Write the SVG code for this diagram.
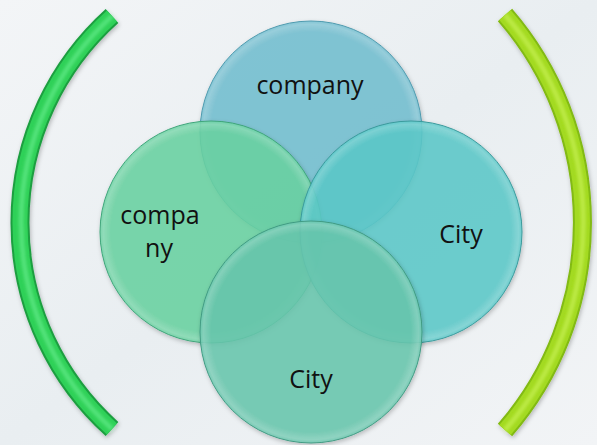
<svg xmlns="http://www.w3.org/2000/svg" width="597" height="445" viewBox="0 0 597 445">
  <defs>
    <linearGradient id="bg" x1="0" y1="0" x2="1" y2="1">
      <stop offset="0" stop-color="#f3f5f7"/>
      <stop offset="0.5" stop-color="#e9eef1"/>
      <stop offset="1" stop-color="#f2f4f6"/>
    </linearGradient>
    <radialGradient id="shine" cx="0.5" cy="0.5" r="0.5">
      <stop offset="0.9" stop-color="#ffffff" stop-opacity="0"/>
      <stop offset="0.97" stop-color="#ffffff" stop-opacity="0.18"/>
      <stop offset="1" stop-color="#ffffff" stop-opacity="0"/>
    </radialGradient>
    <filter id="shadow" x="-20%" y="-20%" width="140%" height="140%">
      <feDropShadow dx="1" dy="2" stdDeviation="2" flood-color="#000" flood-opacity="0.25"/>
    </filter>
    <filter id="soft" x="-10%" y="-10%" width="120%" height="120%">
      <feGaussianBlur stdDeviation="1.5"/>
    </filter>
  </defs>
  <style>
    .circ { stroke-width: 1; fill-opacity: 0.85; }
    .lbl { font-family: "Open Sans", "Liberation Sans", sans-serif; font-size: 25px; fill: #111; text-anchor: middle; }
    .bk { fill: none; stroke-linecap: butt; }
  </style>
  <rect width="597" height="445" fill="url(#bg)"/>

  <g id="bracket-left" filter="url(#shadow)">
    <path class="bk" d="M112,16 A277.7,277.7 0 0 0 112,429" stroke="#1e9f41" stroke-width="19"/>
    <path class="bk" d="M112,16 A277.7,277.7 0 0 0 112,429" stroke="#2fd158" stroke-width="15"/>
    <path class="bk" d="M112,16 A280,280 0 0 0 112,429" stroke="#6bef90" stroke-width="5" stroke-opacity="0.6" filter="url(#soft)"/>
  </g>
  <g id="bracket-right" filter="url(#shadow)">
    <path class="bk" d="M505,15 A316.7,316.7 0 0 1 505,430" stroke="#82ba12" stroke-width="19"/>
    <path class="bk" d="M505,15 A316.7,316.7 0 0 1 505,430" stroke="#a3da20" stroke-width="15"/>
    <path class="bk" d="M505,15 A314,314 0 0 1 505,430" stroke="#ccf35a" stroke-width="5" stroke-opacity="0.6" filter="url(#soft)"/>
  </g>

  <g id="node-top" filter="url(#shadow)">
    <circle class="circ" cx="311" cy="132" r="111" fill="#73bfd1" stroke="#4e9aae"/>
    <circle cx="311" cy="132" r="111" fill="url(#shine)"/>
  </g>
  <g id="node-left" filter="url(#shadow)">
    <circle class="circ" cx="211" cy="232" r="111" fill="#6ad4a2" stroke="#3fa57a"/>
    <circle cx="211" cy="232" r="111" fill="url(#shine)"/>
  </g>
  <g id="node-right" filter="url(#shadow)">
    <circle class="circ" cx="411" cy="232" r="111" fill="#5ccaca" stroke="#3a9a9c"/>
    <circle cx="411" cy="232" r="111" fill="url(#shine)"/>
  </g>
  <g id="node-bottom" filter="url(#shadow)">
    <circle class="circ" cx="311" cy="332" r="111" fill="#68c8ae" stroke="#419b83"/>
    <circle cx="311" cy="332" r="111" fill="url(#shine)"/>
  </g>

  <g id="labels">
    <text class="lbl" x="310" y="94">company</text>
    <text class="lbl" x="160" y="224">compa</text>
    <text class="lbl" x="159" y="257">ny</text>
    <text class="lbl" x="461" y="243">City</text>
    <text class="lbl" x="311" y="388">City</text>
  </g>
</svg>
